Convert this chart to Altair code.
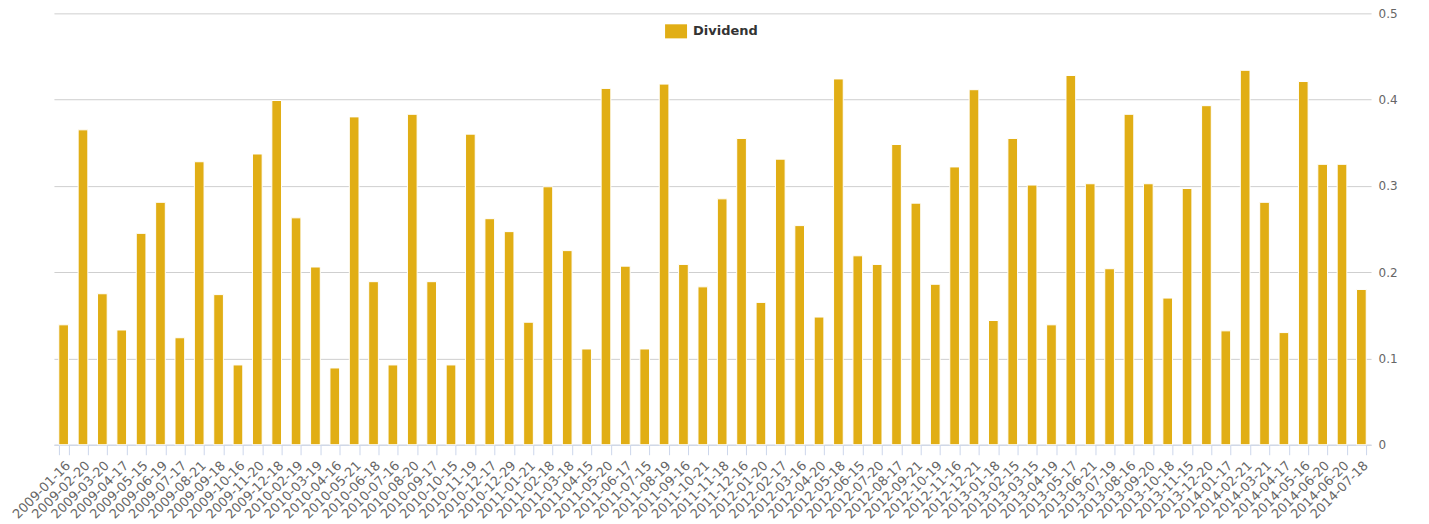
import altair as alt
import pandas as pd

dates = [
    "2009-01-16", "2009-02-20", "2009-03-20", "2009-04-17", "2009-05-15", "2009-06-19",
    "2009-07-17", "2009-08-21", "2009-09-18", "2009-10-16", "2009-11-20", "2009-12-18",
    "2010-02-19", "2010-03-19", "2010-04-16", "2010-05-21", "2010-06-18", "2010-07-16",
    "2010-08-20", "2010-09-17", "2010-10-15", "2010-11-19", "2010-12-17", "2010-12-29",
    "2011-01-21", "2011-02-18", "2011-03-18", "2011-04-15", "2011-05-20", "2011-06-17",
    "2011-07-15", "2011-08-19", "2011-09-16", "2011-10-21", "2011-11-18", "2011-12-16",
    "2012-01-20", "2012-02-17", "2012-03-16", "2012-04-20", "2012-05-18", "2012-06-15",
    "2012-07-20", "2012-08-17", "2012-09-21", "2012-10-19", "2012-11-16", "2012-12-21",
    "2013-01-18", "2013-02-15", "2013-03-15", "2013-04-19", "2013-05-17", "2013-06-21",
    "2013-07-19", "2013-08-16", "2013-09-20", "2013-10-18", "2013-11-15", "2013-12-20",
    "2014-01-17", "2014-02-21", "2014-03-21", "2014-04-17", "2014-05-16", "2014-06-20",
    "2014-06-20", "2014-07-18",
]

dividends = [
    0.139, 0.365, 0.175, 0.133, 0.245, 0.281, 0.124, 0.328, 0.174, 0.0925, 0.337, 0.399,
    0.263, 0.206, 0.089, 0.380, 0.189, 0.0925, 0.383, 0.189, 0.0925, 0.360, 0.262, 0.247,
    0.142, 0.299, 0.225, 0.111, 0.413, 0.207, 0.111, 0.418, 0.209, 0.183, 0.285, 0.355,
    0.165, 0.331, 0.254, 0.148, 0.424, 0.219, 0.209, 0.348, 0.280, 0.186, 0.322, 0.4115,
    0.144, 0.355, 0.301, 0.139, 0.428, 0.3025, 0.204, 0.383, 0.3025, 0.170, 0.297, 0.393,
    0.132, 0.434, 0.281, 0.130, 0.421, 0.325, 0.325, 0.180,
]

series_name = "Dividend"
y_ticks = [0, 0.1, 0.2, 0.3, 0.4, 0.5]

df = pd.DataFrame({
    "key": [f"{i:02d}|{d}" for i, d in enumerate(dates)],
    "value": dividends,
    "series": [series_name] * len(dates),
})

FONT = "DejaVu Sans"

chart = alt.Chart(df).mark_bar(
    color="#E1AE15", stroke="#ffffff", strokeWidth=1
).encode(
    x=alt.X(
        "key:N",
        sort="ascending",
        scale=alt.Scale(paddingInner=0.5, paddingOuter=0.25),
        axis=alt.Axis(
            title=None,
            labelAngle=-45,
            labelExpr="split(datum.value, '|')[1]",
            labelFont=FONT,
            labelFontSize=13,
            labelColor="#666666",
            labelPadding=4,
            tickBand="extent",
            tickColor="#ccd6eb",
            tickSize=10,
            domainColor="#ccd6eb",
            grid=False,
        ),
    ),
    y=alt.Y(
        "value:Q",
        scale=alt.Scale(domain=[0, 0.5], nice=False),
        axis=alt.Axis(
            title=None,
            orient="right",
            values=y_ticks,
            format="~g",
            domain=False,
            ticks=False,
            labelFont=FONT,
            labelFontSize=12,
            labelColor="#666666",
            labelPadding=7,
            gridColor="#cfcfcf",
            gridWidth=1,
        ),
    ),
    color=alt.Color(
        "series:N",
        scale=alt.Scale(range=["#E1AE15"]),
        legend=alt.Legend(
            title=None,
            orient="none",
            legendX=612,
            legendY=7,
            padding=0,
            symbolType="M-1,-0.64H1V0.64H-1Z",
            symbolSize=484,
            symbolStrokeWidth=0,
            symbolOpacity=1,
            labelFont=FONT,
            labelFontSize=13,
            labelFontWeight="bold",
            labelColor="#333333",
            labelOffset=6,
        ),
    ),
).properties(
    width=1319,
    height=432,
    autosize=alt.AutoSizeParams(type="none"),
    padding={"left": 46, "top": 5, "right": 50, "bottom": 77},
).configure_view(strokeWidth=0)

chart.save("out.html", embed_options={"renderer": "svg", "actions": False})
